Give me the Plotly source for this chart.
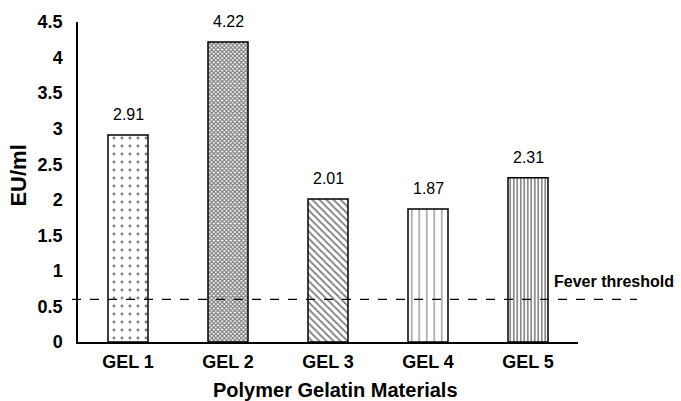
import plotly.graph_objects as go

# Endotoxin levels per gelatin material
materials = ["GEL 1", "GEL 2", "GEL 3", "GEL 4", "GEL 5"]
eu_per_ml = [2.91, 4.22, 2.01, 1.87, 2.31]
value_labels = ["2.91", "4.22", "2.01", "1.87", "2.31"]
fever_threshold = 0.6
y_ticks = [0, 0.5, 1, 1.5, 2, 2.5, 3, 3.5, 4, 4.5]
y_tick_text = ["0", "0.5", "1", "1.5", "2", "2.5", "3", "3.5", "4", "4.5"]

# Fill hatch for each bar
hatch_shapes = [".", "x", "\\", "|", "|"]
hatch_sizes = [8, 3, 5, 7.5, 3.5]
hatch_solidity = [0.1, 0.65, 0.35, 0.15, 0.45]

FONT = "Arial, Liberation Sans, sans-serif"

fig = go.Figure()
fig.add_trace(go.Bar(
    x=materials,
    y=eu_per_ml,
    marker=dict(
        color="white",
        line=dict(color="black", width=1.5),
        pattern=dict(
            shape=hatch_shapes,
            size=hatch_sizes,
            solidity=hatch_solidity,
            fgcolor="black",
            bgcolor="white",
            fillmode="overlay",
        ),
    ),
    showlegend=False,
    hoverinfo="skip",
))

# Value labels above each bar
for name, val, txt in zip(materials, eu_per_ml, value_labels):
    fig.add_annotation(
        x=name, y=val, text=txt, showarrow=False,
        yanchor="bottom", yshift=10,
        font=dict(family=FONT, size=16, color="black"),
    )

# Fever threshold line, running past the plot area
fig.add_shape(
    type="line", xref="paper", yref="y",
    x0=-0.012, x1=1.118, y0=fever_threshold, y1=fever_threshold,
    line=dict(color="black", width=1.2, dash="dash"),
)
fig.add_annotation(
    xref="paper", yref="y", x=0.948, y=fever_threshold,
    text="<b>Fever threshold</b>", showarrow=False,
    xanchor="left", yanchor="bottom", yshift=7,
    font=dict(family=FONT, size=16, color="black"),
)

# Axis titles
fig.add_annotation(
    xref="paper", yref="paper", x=-0.118, y=0.52,
    text="<b>EU/ml</b>", textangle=-90, showarrow=False,
    xanchor="center", yanchor="middle",
    font=dict(family=FONT, size=22, color="black"),
)
fig.add_annotation(
    xref="paper", yref="paper", x=0.514, y=-0.108,
    text="<b>Polymer Gelatin Materials</b>", showarrow=False,
    xanchor="center", yanchor="top",
    font=dict(family=FONT, size=20, color="black"),
)

fig.update_layout(
    width=681, height=401,
    margin=dict(l=78, r=103, t=22, b=59, autoexpand=False),
    paper_bgcolor="white", plot_bgcolor="white",
    bargap=0.6,
    font=dict(family=FONT, color="black"),
    xaxis=dict(
        showline=True, linecolor="black", linewidth=1.5,
        showgrid=False, ticks="", ticklabelstandoff=3, automargin=False,
        tickfont=dict(family=FONT, size=18, weight="bold"),
    ),
    yaxis=dict(
        range=[0, 4.5], tickvals=y_ticks, ticktext=y_tick_text,
        showline=True, linecolor="black", linewidth=1.5, automargin=False,
        showgrid=False, zeroline=False, ticks="", ticklabelstandoff=10,
        tickfont=dict(family=FONT, size=18, weight="bold"),
    ),
)

fig.write_html("out.html")
